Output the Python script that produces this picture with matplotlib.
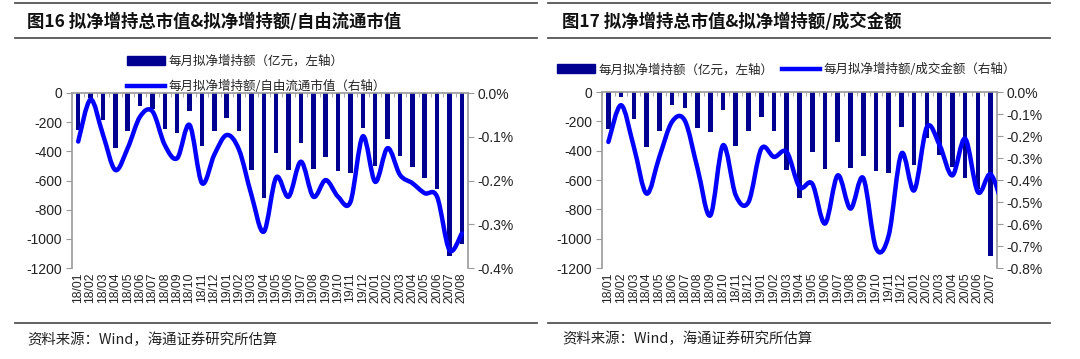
import matplotlib

matplotlib.use("Agg")
import matplotlib.pyplot as plt
from matplotlib.lines import Line2D
from matplotlib.patches import PathPatch
from matplotlib.path import Path
from matplotlib.ticker import FixedLocator, FuncFormatter

plt.rcParams["font.family"] = ["Liberation Sans", "Noto Sans CJK SC", "DejaVu Sans"]

CJK = ["Noto Sans CJK SC", "DejaVu Sans"]

# 月份（左图到 20/08，右图到 20/07）
months = [
    "18/01", "18/02", "18/03", "18/04", "18/05", "18/06", "18/07", "18/08",
    "18/09", "18/10", "18/11", "18/12", "19/01", "19/02", "19/03", "19/04",
    "19/05", "19/06", "19/07", "19/08", "19/09", "19/10", "19/11", "19/12",
    "20/01", "20/02", "20/03", "20/04", "20/05", "20/06", "20/07", "20/08",
]
months_right = months[:31]

# 每月拟净增持额（亿元）
net_increase = [
    -255, -35, -183, -377, -263, -91, -107, -247, -274, -126, -366, -263,
    -171, -263, -530, -720, -411, -526, -343, -521, -439, -537, -549, -240,
    -498, -313, -430, -510, -583, -658, -1120, -1035,
]
net_increase_right = net_increase[:31]

# 拟净增持额/自由流通市值（%）
ratio_free_float = [
    -0.111, -0.015, -0.095, -0.176, -0.126, -0.054, -0.042, -0.119,
    -0.149, -0.073, -0.206, -0.141, -0.096, -0.130, -0.233, -0.317,
    -0.193, -0.237, -0.157, -0.237, -0.199, -0.237, -0.249, -0.099,
    -0.203, -0.126, -0.187, -0.206, -0.229, -0.237, -0.359, -0.321,
]

# 拟净增持额/成交金额（%），最后一点落在坐标区之外被裁掉
ratio_turnover = [
    -0.227, -0.060, -0.250, -0.462, -0.295, -0.135, -0.130, -0.348,
    -0.561, -0.242, -0.470, -0.500, -0.258, -0.295, -0.273, -0.432,
    -0.417, -0.598, -0.379, -0.530, -0.391, -0.709, -0.652, -0.280,
    -0.447, -0.159, -0.242, -0.379, -0.212, -0.455, -0.374, -0.530,
]

BAR_COLOR = "#000090"
LINE_COLOR = "#0000FF"
AXIS_GRAY = "#9a9a9a"
TEXT_COLOR = "#222222"


def smooth_path(ys):
    """Catmull-Rom 曲线转三次 Bezier，类似 Excel 的平滑线。"""
    n = len(ys)
    xs = list(range(n))
    verts = [(xs[0], ys[0])]
    codes = [Path.MOVETO]
    for i in range(n - 1):
        a = max(i - 1, 0)
        d = min(i + 2, n - 1)
        c1 = (xs[i] + (xs[i + 1] - xs[a]) / 6, ys[i] + (ys[i + 1] - ys[a]) / 6)
        c2 = (xs[i + 1] - (xs[d] - xs[i]) / 6, ys[i + 1] - (ys[d] - ys[i]) / 6)
        verts += [c1, c2, (xs[i + 1], ys[i + 1])]
        codes += [Path.CURVE4] * 3
    return Path(verts, codes)


def draw_panel(rect, labels, bars, ratio, ratio_min, ratio_step):
    ax = fig.add_axes(rect)
    n = len(labels)
    x = list(range(n))
    ax.bar(x, bars, width=0.36, color=BAR_COLOR, zorder=2)
    ax.set_xlim(-0.5, n - 0.5)
    ax.set_ylim(-1200, 0)
    ax.set_yticks(range(-1200, 1, 200))
    ax.yaxis.set_major_formatter(FuncFormatter(lambda v, p: f"{v:.0f}"))

    ax.set_xticks(x)
    ax.set_xticklabels(labels, rotation=90, fontsize=8.8, color=TEXT_COLOR)
    ax.xaxis.set_minor_locator(FixedLocator([i + 0.5 for i in range(-1, n)]))
    ax.tick_params(axis="x", which="major", length=0, pad=3)
    ax.tick_params(axis="x", which="minor", bottom=False, top=True,
                   direction="in", length=3, color=AXIS_GRAY)
    ax.tick_params(axis="y", length=4, color=AXIS_GRAY, labelsize=10,
                   labelcolor=TEXT_COLOR, pad=3)
    for side in ("right", "bottom"):
        ax.spines[side].set_visible(False)
    for side in ("left", "top"):
        ax.spines[side].set_color(AXIS_GRAY)
        ax.spines[side].set_linewidth(1.2)

    ax2 = ax.twinx()
    ax2.set_ylim(ratio_min, 0)
    steps = round(-ratio_min / ratio_step)
    ax2.set_yticks([-ratio_step * k for k in range(steps, -1, -1)])
    ax2.yaxis.set_major_formatter(
        FuncFormatter(lambda v, p: f"{v:.1f}%".replace("-0.0%", "0.0%")))
    ax2.tick_params(axis="y", length=4, color=AXIS_GRAY, labelsize=10,
                    labelcolor=TEXT_COLOR, pad=3)
    for side in ("left", "top", "bottom"):
        ax2.spines[side].set_visible(False)
    ax2.spines["right"].set_color(AXIS_GRAY)
    ax2.spines["right"].set_linewidth(1.2)
    ax2.add_patch(PathPatch(smooth_path(ratio), fill=False, edgecolor=LINE_COLOR,
                            lw=3.2, capstyle="round", joinstyle="round", zorder=3))
    return ax, ax2


fig = plt.figure(figsize=(10.8, 3.59), dpi=100)
W, H = 1080, 359


def fx(px):
    return px / W


def fy(py):
    return 1 - py / H


def rule(x0, x1, y):
    fig.add_artist(Line2D([fx(x0), fx(x1)], [fy(y), fy(y)], color="#555555",
                          lw=1.3, transform=fig.transFigure))


# 左图
draw_panel([fx(72), fy(268), fx(468) - fx(72), fy(93) - fy(268)],
           months, net_increase, ratio_free_float, -0.4, 0.1)
# 右图
draw_panel([fx(602), fy(268), fx(997) - fx(602), fy(92) - fy(268)],
           months_right, net_increase_right, ratio_turnover, -0.8, 0.1)

for x0, x1 in ((15, 537), (548, 1050)):
    rule(x0, x1, 3)
    rule(x0, x1, 38)
    rule(x0, x1, 323)

fig.text(fx(27), fy(22), "图16 拟净增持总市值&拟净增持额/自由流通市值", family=CJK,
         fontsize=12.5, fontweight="bold", va="center", ha="left", color="#111111")
fig.text(fx(562), fy(22), "图17 拟净增持总市值&拟净增持额/成交金额", family=CJK,
         fontsize=12.5, fontweight="bold", va="center", ha="left", color="#111111")

src = "资料来源：Wind，海通证券研究所估算"
fig.text(fx(27), fy(340), src, family=CJK, fontsize=10.4, va="center", color=TEXT_COLOR)
fig.text(fx(562), fy(339), src, family=CJK, fontsize=10.4, va="center", color=TEXT_COLOR)

bar_handle = plt.Rectangle((0, 0), 1, 1, color=BAR_COLOR)
line_handle = Line2D([], [], color=LINE_COLOR, lw=3.2)
leg_font = {"family": CJK, "size": 9}

fig.legend([bar_handle, line_handle],
           ["每月拟净增持额（亿元，左轴）", "每月拟净增持额/自由流通市值（右轴）"],
           loc="upper left", bbox_to_anchor=(fx(127), fy(55)), frameon=False,
           prop=leg_font, handlelength=3.0, handletextpad=0.3, labelspacing=0.95,
           borderpad=0, borderaxespad=0, labelcolor=TEXT_COLOR)
fig.legend([bar_handle, line_handle],
           ["每月拟净增持额（亿元，左轴）", "每月拟净增持额/成交金额（右轴）"],
           loc="upper left", bbox_to_anchor=(fx(557), fy(63)), frameon=False,
           prop=leg_font, ncol=2, handlelength=3.0, handletextpad=0.3,
           columnspacing=0.7, borderpad=0, borderaxespad=0, labelcolor=TEXT_COLOR)

fig.savefig("out.png", dpi=100)
